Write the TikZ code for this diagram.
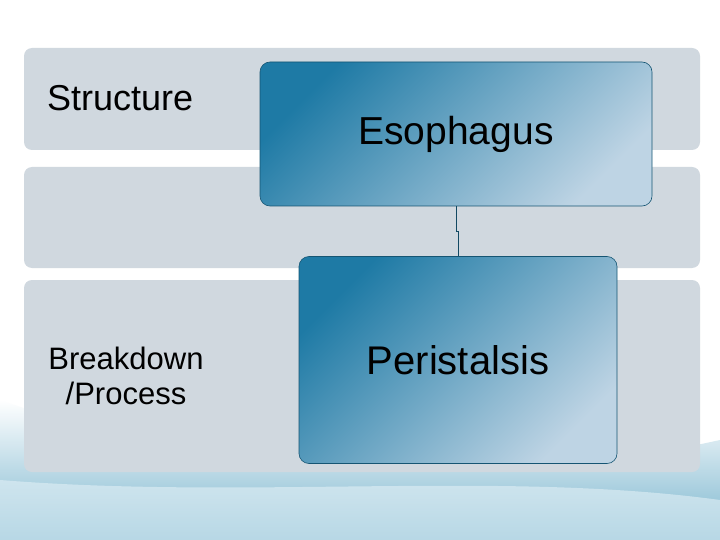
\documentclass[tikz,border=0pt]{standalone}
\usepackage{fontspec}
\setmainfont{Liberation Sans}
\definecolor{rowgray}{RGB}{208,216,223}
\definecolor{boxlight}{RGB}{190,212,228}
\definecolor{boxdark}{RGB}{30,122,165}
\definecolor{wavelight}{RGB}{226,240,246}
\definecolor{wavedark}{RGB}{120,180,205}

\begin{document}
\begin{tikzpicture}[x=1pt, y=-1pt,
		row/.style={fill=rowgray, rounded corners=8pt},
		box/.style={rounded corners=10pt, draw=boxdark!70!black, line width=0.6pt, left color=boxlight, right color=boxdark, shading angle=-135},
		lbl/.style={font=\fontsize{36}{40}\selectfont, align=center}]
		\useasboundingbox (0,0) rectangle (720,540);
		\fill[white] (0,0) rectangle (720,540);
		% waves at the bottom
		\shade[top color=white, bottom color=wavedark] (0,400) .. controls (200,470) and (450,500) .. (720,440) -- (720,540) -- (0,540) -- cycle;
		\fill[wavelight, opacity=0.6] (0,480) .. controls (250,500) and (500,470) .. (720,500) -- (720,540) -- (0,540) -- cycle;

		% rows
		\fill[row] (24,48) rectangle (700,150);
		\fill[row] (24,167) rectangle (700,268);
		\fill[row] (24,280) rectangle (700,472);

		\node[lbl, anchor=west, inner sep=0pt] (s) at (47,98) {Structure};
		\node[lbl, font=\fontsize{31}{35}\selectfont] (p) at (126,376) {Breakdown\\/Process};

		\node[box, minimum width=392pt, minimum height=144pt, font=\fontsize{39}{44}\selectfont] (a) at (456,134) {Esophagus};
		\node[box, minimum width=318pt, minimum height=207pt, font=\fontsize{40}{44}\selectfont] (b) at (458,360) {Peristalsis};

		\draw[boxdark!60!black, line width=1pt] (a.south) -- ++(0,25) -| (b.north);
	\end{tikzpicture}
\end{document}
